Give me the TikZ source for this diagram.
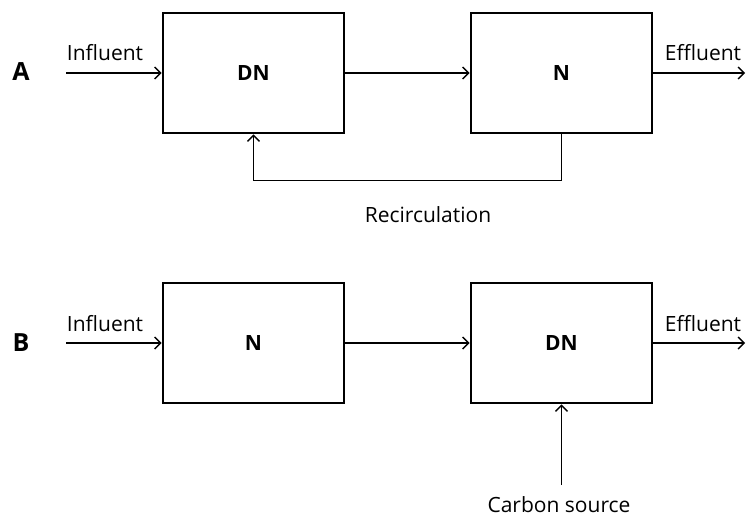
\documentclass[tikz,border=0pt]{standalone}
\usepackage{fontspec}
\setmainfont{Open Sans}
\usetikzlibrary{arrows.meta}
\begin{document}
\begin{tikzpicture}[x=1pt,y=-1pt,
  unitbox/.style={draw,line width=2.6pt,minimum width=181pt,minimum height=120pt,inner sep=0pt,font=\fontsize{21}{24}\selectfont\bfseries},
  flow/.style={line width=1.4pt,-{Straight Barb[length=6pt,width=12pt,line width=1.4pt]}},
  lbl/.style={anchor=base,inner sep=0pt,font=\fontsize{21}{24}\selectfont},
  panel/.style={inner sep=0pt,font=\fontsize{25}{28}\selectfont\bfseries}]
\useasboundingbox (0,0) rectangle (746,517);
% Panel A
\node[panel] (pA) at (21,72) {A};
\node[unitbox] (aDN) at (253.5,73) {DN};
\node[unitbox] (aN) at (561.5,73) {N};
\coordinate (inA) at (66,73);
\coordinate (outA) at (745,73);
\node[lbl] (tinA) at (105,60) {Influent};
\node[lbl] (toutA) at (703,60) {Effluent};
\node[lbl] (trec) at (428,222) {Recirculation};
\draw[flow] (inA) -- (aDN.west);
\draw[flow] (aDN.east) -- (aN.west);
\draw[flow] (aN.east) -- (outA);
\draw[flow] (aN.south) -- ++(0,46) -| (aDN.south);
% Panel B
\node[panel] (pB) at (21,343) {B};
\node[unitbox] (bN) at (253.5,343) {N};
\node[unitbox] (bDN) at (561.5,343) {DN};
\coordinate (inB) at (66,343);
\coordinate (outB) at (745,343);
\coordinate (cs) at (561.5,485);
\node[lbl] (tinB) at (105,331) {Influent};
\node[lbl] (toutB) at (703,331) {Effluent};
\node[lbl] (tcs) at (559,512) {Carbon source};
\draw[flow] (inB) -- (bN.west);
\draw[flow] (bN.east) -- (bDN.west);
\draw[flow] (bDN.east) -- (outB);
\draw[flow] (cs) -- (bDN.south);
\end{tikzpicture}
\end{document}
